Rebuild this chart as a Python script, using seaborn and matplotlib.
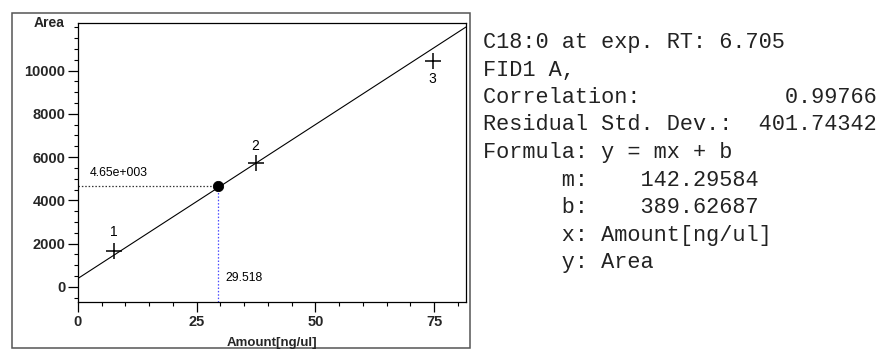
import matplotlib
matplotlib.use("Agg")
import matplotlib.pyplot as plt
from matplotlib.patches import Rectangle
from matplotlib.ticker import MultipleLocator
import seaborn as sns
import pandas as pd

# ---- data ----
amounts = [7.5, 37.4, 74.7]          # calibration levels, ng/ul
areas = [1650, 5720, 10460]          # peak areas
level_labels = ["1", "2", "3"]
slope_m = 142.29584
intercept_b = 389.62687
sample_amount = 29.518
sample_area = 4650
sample_area_label = "4.65e+003"
sample_amount_label = "29.518"
x_ticks = [0, 25, 50, 75]
y_ticks = [0, 2000, 4000, 6000, 8000, 10000]
info_lines = [
    "C18:0 at exp. RT: 6.705",
    "FID1 A,",
    "Correlation:           0.99766",
    "Residual Std. Dev.:  401.74342",
    "Formula: y = mx + b",
    "      m:    142.29584",
    "      b:    389.62687",
    "      x: Amount[ng/ul]",
    "      y: Area",
]

sns.set_theme(style="white")
plt.rcParams["font.family"] = ["Liberation Sans", "DejaVu Sans"]

W, H = 885, 352
fig = plt.figure(figsize=(W / 100, H / 100), dpi=100)
fig.patch.set_facecolor("white")

# outer frame around the chart
fig.patches.append(Rectangle((12 / W, 1 - 348 / H), 458 / W, 335 / H,
                             transform=fig.transFigure, fill=False,
                             edgecolor="#555555", linewidth=1.1))

ax = fig.add_axes([78 / W, 1 - 302 / H, 388 / W, 279 / H])
ax.set_facecolor("white")

df = pd.DataFrame({"amount": amounts, "area": areas, "lvl": level_labels})

# calibration line y = m x + b
ax.axline((0, intercept_b), slope=slope_m, color="black", linewidth=0.8)

# calibration points
sns.scatterplot(data=df, x="amount", y="area", marker="+", s=140,
                color="black", linewidth=1.1, ax=ax, zorder=4, legend=False)

# sample point + guides
ax.plot([0, sample_amount], [sample_area, sample_area], linestyle=(0, (1.2, 1.5)),
        color="#333333", linewidth=0.9)
ax.plot([sample_amount, sample_amount], [-700, sample_area], linestyle=(0, (1.2, 1.5)),
        color="#4a4aff", linewidth=0.9)
sns.scatterplot(x=[sample_amount], y=[sample_area], color="black", s=55,
                ax=ax, zorder=5, legend=False, edgecolor="black")

ax.text(2.5, sample_area + 330, sample_area_label, fontsize=8.8, ha="left",
        va="bottom", color="black")
ax.text(sample_amount + 1.5, 400, sample_amount_label, fontsize=8.8, ha="left",
        va="center", color="black")

offsets = [900, 800, -850]
for xv, yv, lab, off in zip(amounts, areas, level_labels, offsets):
    ax.text(xv, yv + off, lab, fontsize=10, ha="center", va="center", color="black")

ax.set_xlim(0, 81.7)
ax.set_ylim(-700, 12200)
ax.set_xticks(x_ticks)
ax.set_yticks(y_ticks)
ax.xaxis.set_minor_locator(MultipleLocator(5))
ax.yaxis.set_minor_locator(MultipleLocator(500))
ax.tick_params(axis="both", which="major", direction="out", length=7, width=0.9,
               color="black", labelsize=10.5, pad=2, bottom=True, left=True)
ax.tick_params(axis="both", which="minor", direction="out", length=3, width=0.8,
               color="black", bottom=True, left=True)
for lab in ax.get_xticklabels() + ax.get_yticklabels():
    lab.set_fontweight("bold")
ax.set_xlabel("")
ax.set_ylabel("")
for sp in ax.spines.values():
    sp.set_visible(True)
    sp.set_color("black")
    sp.set_linewidth(0.9)

fig.text(65 / W, 1 - 23 / H, "Area", fontsize=10, fontweight="bold",
         ha="right", va="center")
fig.text(272 / W, 1 - 343 / H, "Amount[ng/ul]", fontsize=9.5, fontweight="bold",
         ha="center", va="center")

# info block
y0 = 48
for i, line in enumerate(info_lines):
    fig.text(483 / W, 1 - (y0 + i * 27.5) / H, line, fontsize=15.75,
             family=["Liberation Mono", "DejaVu Sans Mono"], color="#222222",
             ha="left", va="baseline")

fig.savefig("out.png", dpi=100)
